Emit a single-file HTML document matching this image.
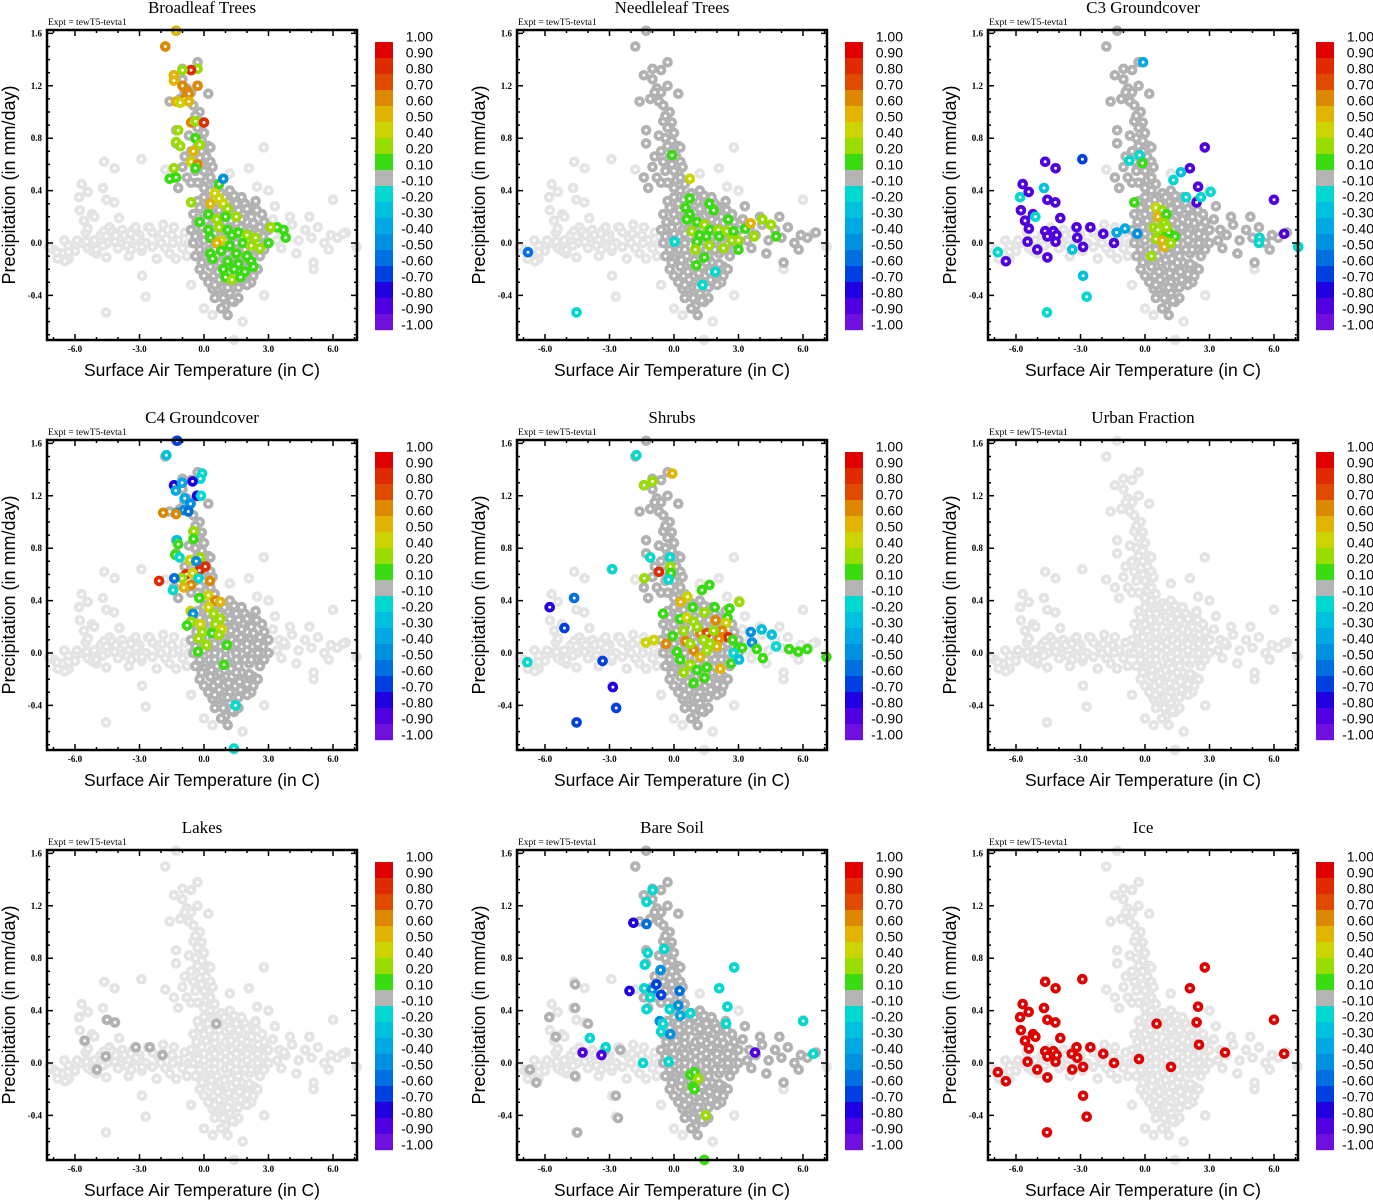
<!DOCTYPE html>
<html><head><meta charset="utf-8"><style>
html,body{margin:0;padding:0;background:#fff;}
svg{display:block;}
</style></head><body>
<svg id="chart" width="1373" height="1200" xmlns="http://www.w3.org/2000/svg"></svg>
<script>
// ---- shared base cloud (temperature C, precipitation mm/day) ----
const leftArm=[[-7.0,-0.05],[-6.6,-0.08],[-6.3,-0.02],[-6.0,-0.06],[-5.7,0.0],[-5.4,-0.04],[-5.1,0.02],[-4.8,0.06],[-4.5,0.0],[-4.2,0.08],[-3.9,0.04],[-3.6,-0.02],[-3.3,0.10],[-3.0,0.06],[-2.7,0.0],[-2.4,0.08],[-2.1,0.04],[-1.8,-0.04],[-1.5,0.06],[-1.2,0.02],[-0.9,0.08],[-6.8,-0.12],[-5.9,0.02],[-5.0,-0.08],[-4.4,0.12],[-3.5,-0.10],[-2.9,-0.06],[-2.2,-0.12],[-1.6,-0.08],[-1.0,-0.04],[-4.0,-0.04],[-3.2,0.02],[-2.6,0.12],[-1.9,0.14],[-5.5,0.08],[-6.3,-0.12],[-4.7,-0.02],[-3.8,0.1],[-2.4,-0.03],[-1.3,-0.12],[-7.2,-0.03],[-6.5,0.02],[-5.2,-0.06],[-3.7,0.06],[-2.0,0.0],[-1.4,0.12],[-0.7,0.0],[-0.8,-0.1]];
const plume=[[-1.3,1.62],[-1.8,1.5],[-0.3,1.38],[-0.6,1.32],[-1.0,1.33],[-1.4,1.28],[-1.0,1.25],[-0.3,1.20],[-0.8,1.18],[-0.6,1.15],[-1.1,1.10],[-1.6,1.08],[0.2,1.14],[-0.7,1.08],[-0.2,1.0],[-0.5,0.93],[-0.1,0.92],[-0.2,0.88],[-1.3,0.86],[-0.4,0.80],[-0.1,0.78],[-1.3,0.76],[-0.3,0.74],[0.2,0.74],[0.3,0.73],[-0.1,0.70],[-0.6,0.70],[0.1,0.66],[0.3,0.62],[-0.5,0.62],[-0.2,0.60],[0.4,0.58],[-1.0,0.58],[-0.4,0.55],[0.2,0.54],[-0.8,0.50],[0.1,0.48],[-1.4,0.50],[-0.3,0.46],[0.5,0.45],[-1.2,0.42],[0.0,0.42],[-0.4,0.97],[0.0,0.84],[-0.2,0.65],[0.0,0.55],[-0.9,1.15],[-0.5,1.05],[-0.3,0.88],[-0.7,0.82],[-0.9,0.66],[-0.1,0.6],[0.3,0.5],[-0.6,0.46]];
const blob=[[0.3,0.40],[0.8,0.38],[1.2,0.40],[0.6,0.35],[-0.3,0.32],[0.2,0.30],[0.7,0.30],[1.1,0.32],[1.5,0.30],[1.9,0.30],[2.4,0.32],[-0.5,0.22],[0.0,0.22],[0.5,0.20],[1.0,0.24],[1.4,0.20],[1.8,0.22],[2.2,0.20],[2.7,0.22],[-0.6,0.10],[-0.1,0.12],[0.4,0.10],[0.9,0.12],[1.3,0.10],[1.7,0.12],[2.1,0.10],[2.6,0.12],[3.0,0.10],[-0.5,0.0],[0.0,0.02],[0.5,0.0],[1.0,0.02],[1.5,0.0],[2.0,0.02],[2.5,0.0],[3.0,0.0],[-0.4,-0.10],[0.1,-0.08],[0.6,-0.10],[1.1,-0.08],[1.6,-0.10],[2.1,-0.08],[2.6,-0.10],[-0.2,-0.20],[0.3,-0.18],[0.8,-0.20],[1.3,-0.18],[1.8,-0.20],[2.3,-0.18],[0.2,-0.30],[0.7,-0.28],[1.2,-0.30],[1.7,-0.28],[2.2,-0.30],[0.7,-0.40],[1.2,-0.38],[1.6,-0.42],[1.0,-0.48],[0.25,0.05],[0.75,0.05],[1.25,0.05],[1.75,0.05],[0.25,-0.05],[0.75,-0.15],[1.25,-0.12],[1.75,-0.15],[0.5,0.15],[1.0,0.16],[1.5,0.15],[0.45,-0.25],[0.95,-0.25],[1.45,-0.25],[0.7,0.25],[1.2,0.26],[0.4,-0.35],[0.9,-0.34],[1.4,-0.34],[2.0,-0.24],[2.25,0.05],[2.75,0.05],[2.0,0.16],[2.4,-0.05],[1.9,-0.05],[0.5,-0.42],[1.4,-0.45],[2.1,0.27],[0.0,-0.12],[-0.2,0.07],[0.0,0.35],[0.45,0.33],[0.95,0.35],[1.4,0.36],[1.75,0.35],[-0.2,0.27],[0.25,0.25],[1.6,0.25],[2.0,0.26],[2.45,0.25],[-0.35,0.16],[0.1,0.17],[1.25,0.17],[1.75,0.18],[2.3,0.15],[2.8,0.16],[-0.4,0.05],[0.0,0.07],[0.5,0.07],[1.0,0.08],[1.5,0.07],[2.0,0.07],[2.5,0.07],[-0.2,-0.05],[0.5,-0.05],[1.0,-0.04],[1.5,-0.05],[2.2,-0.05],[2.8,-0.05],[-0.1,-0.15],[0.35,-0.13],[0.95,-0.13],[1.5,-0.15],[2.1,-0.16],[2.5,-0.2],[0.0,-0.25],[0.65,-0.22],[1.15,-0.23],[1.65,-0.22],[2.3,-0.25],[0.5,-0.32],[1.1,-0.34],[1.6,-0.34],[2.0,-0.32],[0.9,-0.42],[1.3,-0.44],[0.8,-0.5],[1.1,-0.55]];
const rightArm=[[3.2,0.18],[3.5,0.10],[3.8,0.06],[4.1,0.14],[4.4,0.02],[4.7,0.10],[5.0,0.04],[5.3,0.12],[5.6,0.0],[5.9,0.06],[6.2,0.04],[6.6,0.08],[3.6,-0.04],[4.3,-0.08],[5.1,-0.15],[4.9,0.20],[3.3,0.28],[5.8,-0.05],[4.0,0.2],[3.4,0.02]];
const outliers=[[-4.64,0.62],[-4.16,0.57],[-5.69,0.45],[-5.81,0.35],[-5.41,0.39],[-4.70,0.42],[-4.54,0.33],[-4.17,0.31],[-5.77,0.25],[-5.21,0.22],[-5.10,0.20],[-3.94,0.19],[-5.58,0.17],[-5.40,0.11],[-5.46,0.01],[-5.01,-0.05],[-6.84,-0.07],[-6.47,-0.14],[-4.64,0.09],[-4.54,0.05],[-4.26,0.09],[-4.11,0.06],[-4.16,0.01],[-4.54,-0.11],[-4.56,-0.53],[-2.91,0.64],[-3.18,0.12],[-3.41,0.07],[-3.15,0.04],[-3.38,-0.05],[-2.88,-0.03],[-2.54,0.12],[-1.94,0.07],[-1.44,0.0],[-2.88,-0.25],[-2.71,-0.41],[-0.28,0.03],[0.54,0.30],[1.21,-0.03],[2.09,0.57],[2.78,0.73],[2.47,0.43],[2.40,0.31],[2.51,0.14],[3.72,0.08],[6.0,0.33],[6.47,0.07],[-0.6,-0.32],[0.0,-0.5],[0.4,-0.55],[1.8,-0.60],[3.0,0.40],[1.2,0.53],[5.1,-0.2],[1.4,-0.74],[-1.8,0.56],[2.8,-0.4],[7.1,-0.03]];

// ---- per-panel data ----
const panelNames=["Broadleaf Trees","Needleleaf Trees","C3 Groundcover","C4 Groundcover","Shrubs","Urban Fraction","Lakes","Bare Soil","Ice"];
const darkGroups=[["plume","blob"],["plume","blob","rightArm"],["plume","blob","rightArm"],["plume","blob"],["plume","blob"],[],[],["plume","blob","rightArm"],[]];
const extraDark=[[],[],[],[],[],[],[[-4.51,0.33],[-4.14,0.31],[-5.55,0.17],[-3.17,0.12],[-2.52,0.12],[-4.57,0.05],[-1.93,0.06],[-4.98,-0.05],[0.57,0.30]],[[-5.8,0.35],[-4.6,0.42],[-5.5,0.2],[-4.6,0.6],[-4.0,0.3],[-3.2,0.1],[-2.5,0.1],[-6.7,-0.05],[-6.4,-0.15],[-4.6,-0.1],[-2.7,-0.25],[-2.6,-0.42],[-4.5,-0.53]],[]];
const broadleafVals=[[-1.3,1.62,0.5],[-1.8,1.5,0.6],[-0.3,1.33,0.3],[-0.6,1.32,0.8],[-1.0,1.32,0.3],[-1.4,1.28,0.5],[-1.4,1.24,0.5],[-1.0,1.2,0.6],[-0.8,1.16,0.6],[-0.7,1.14,0.6],[-0.3,1.2,0.6],[-0.9,1.10,0.6],[-1.3,1.08,0.5],[-1.1,1.07,0.4],[-0.7,1.08,0.5],[-0.6,0.92,0.6],[-0.4,0.93,0.2],[0.0,0.92,0.8],[-1.2,0.86,0.3],[-0.4,0.80,0.1],[-1.3,0.77,0.3],[-1.1,0.74,0.3],[-0.2,0.75,0.3],[-0.5,0.70,0.5],[-0.6,0.62,0.4],[-0.3,0.60,0.6],[-0.4,0.57,0.1],[-1.4,0.57,0.2],[-1.6,0.49,0.1],[-1.3,0.50,0.1],[0.7,0.45,0.1],[0.9,0.49,-0.5],[-0.6,0.31,0.3],[0.3,0.30,0.5],[0.5,0.38,0.4],[0.7,0.34,0.4],[0.9,0.30,0.4],[1.1,0.26,0.3],[0.2,0.22,0.1],[0.6,0.18,0.3],[1.0,0.20,0.1],[1.5,0.20,0.3],[-0.2,0.16,0.1],[0.2,0.10,0.1],[0.7,0.12,0.3],[1.1,0.10,0.1],[1.6,0.08,0.1],[2.0,0.06,0.3],[2.4,0.04,0.3],[0.3,0.04,0.1],[0.8,0.02,0.4],[1.3,0.06,0.1],[0.6,0.00,0.5],[1.2,-0.02,0.1],[1.8,0.00,0.1],[2.2,-0.02,0.3],[2.6,-0.04,0.3],[3.0,0.0,0.1],[3.4,0.12,0.1],[3.7,0.10,0.1],[3.8,0.04,0.1],[3.1,0.12,0.3],[0.3,-0.08,0.1],[0.8,-0.06,0.1],[1.5,-0.08,0.1],[2.0,-0.10,0.1],[0.4,-0.12,0.1],[1.1,-0.14,0.1],[1.6,-0.16,0.1],[2.2,-0.14,0.1],[0.9,-0.20,0.1],[1.4,-0.20,0.1],[1.9,-0.22,0.1],[2.3,-0.18,0.1],[1.0,-0.26,0.1],[1.3,-0.28,0.3],[1.7,-0.26,0.1]];
const needleleafVals=[[-0.09,0.67,0.1],[0.74,0.49,0.4],[0.73,0.34,0.1],[0.53,0.27,0.1],[1.65,0.30,0.1],[1.84,0.25,0.1],[2.52,0.18,0.1],[0.73,0.22,0.1],[0.6,0.18,0.1],[1.07,0.16,0.1],[1.42,0.14,0.3],[0.83,0.09,0.3],[1.19,0.06,0.1],[1.5,0.05,0.1],[1.68,0.10,0.1],[2.06,0.10,0.3],[2.1,0.05,0.1],[2.46,0.09,0.3],[2.77,0.09,0.1],[2.69,0.02,0.3],[3.0,0.02,0.3],[3.0,-0.05,0.1],[2.3,-0.04,0.3],[1.65,-0.02,0.3],[1.07,0.01,0.1],[0.99,-0.05,0.3],[1.41,-0.11,0.1],[1.04,-0.17,0.1],[3.31,0.11,0.1],[3.57,0.15,0.5],[3.73,0.05,0.3],[4.11,0.18,0.3],[4.51,0.14,0.3],[4.75,0.05,0.1],[-6.79,-0.07,-0.6],[-4.53,-0.53,-0.2],[0.03,0.01,-0.2],[1.92,-0.22,-0.2],[1.33,-0.32,-0.2]];
const c3Vals=[[-4.64,0.62,-0.9],[-4.16,0.57,-0.9],[-5.69,0.45,-0.9],[-5.81,0.35,-0.2],[-5.41,0.39,-0.9],[-4.70,0.42,-0.3],[-4.54,0.33,-0.9],[-4.17,0.31,-0.9],[-5.77,0.25,-0.9],[-5.21,0.22,-0.9],[-5.10,0.20,-0.2],[-3.94,0.19,-0.9],[-5.58,0.17,-0.9],[-5.40,0.11,-0.9],[-5.46,0.01,-0.9],[-5.01,-0.05,-0.9],[-6.84,-0.07,-0.2],[-6.47,-0.14,-0.9],[-4.64,0.09,-0.9],[-4.54,0.05,-0.9],[-4.26,0.09,-0.9],[-4.11,0.06,-0.9],[-4.16,0.01,-0.9],[-4.54,-0.11,-0.9],[-4.56,-0.53,-0.2],[-2.91,0.64,-0.7],[-3.18,0.12,-0.9],[-3.15,0.04,-0.9],[-3.38,-0.05,-0.3],[-2.88,-0.03,-0.9],[-2.54,0.12,-0.9],[-1.94,0.07,-0.9],[-1.44,0.0,-0.9],[-2.88,-0.25,-0.3],[-2.71,-0.41,-0.2],[2.09,0.57,-0.9],[2.78,0.73,-0.9],[2.47,0.43,-0.9],[2.40,0.31,-0.9],[6.0,0.33,-0.9],[6.47,0.07,-0.9],[-1.32,0.08,-0.4],[-0.93,0.11,-0.4],[-0.36,0.07,-0.5],[1.67,0.54,-0.3],[1.32,0.48,-0.2],[1.91,0.35,-0.2],[2.6,0.35,-0.2],[3.05,0.39,-0.2],[5.33,0.04,-0.2],[5.3,0.0,-0.2],[7.13,-0.03,-0.2],[-0.09,1.38,-0.4],[-0.73,0.63,-0.2],[-0.25,0.67,-0.2],[-0.11,0.61,0.1],[-0.5,0.31,0.1],[0.5,0.27,0.4],[0.8,0.25,0.3],[0.6,0.2,0.5],[1.0,0.22,0.1],[0.9,0.15,0.3],[0.4,0.12,0.3],[0.7,0.08,0.1],[1.1,0.08,0.1],[1.4,0.05,0.1],[0.5,0.03,0.3],[0.8,0.02,0.5],[0.9,-0.03,0.5],[1.2,0.0,0.3],[0.6,0.1,0.3],[0.3,-0.1,0.3],[1.0,0.12,0.3]];
const c4Vals=[[-1.24,1.62,-0.7],[-1.75,1.51,-0.3],[-0.09,1.37,-0.2],[-0.17,1.33,-0.2],[-0.53,1.31,-0.8],[-1.39,1.28,-0.8],[-1.02,1.30,-0.4],[-1.31,1.24,-0.4],[-0.32,1.20,-0.8],[-0.14,1.20,-0.2],[-0.90,1.18,-0.4],[-0.63,1.14,-0.5],[-0.94,1.09,-0.5],[-0.73,1.08,-0.6],[-1.27,1.07,-0.5],[-1.9,1.07,0.6],[-1.3,1.06,0.6],[-0.48,0.93,0.3],[-0.49,0.87,0.1],[-1.25,0.86,-0.3],[-1.2,0.83,0.1],[-1.34,0.75,0.1],[-1.14,0.73,-0.2],[-0.66,0.71,0.4],[-0.17,0.73,0.3],[-0.36,0.70,-0.5],[0.06,0.66,0.8],[-0.22,0.63,0.8],[-0.83,0.60,0.8],[-0.53,0.61,0.4],[-1.02,0.57,0.3],[-1.38,0.57,-0.6],[-0.25,0.57,-0.2],[0.28,0.55,0.6],[-2.09,0.55,0.8],[-0.6,0.52,0.6],[-0.94,0.50,0.5],[-1.44,0.48,-0.2],[0.2,0.44,0.4],[-0.22,0.42,0.1],[0.53,0.40,0.6],[0.76,0.39,0.5],[0.22,0.35,0.4],[-0.63,0.32,0.4],[-0.51,0.30,-0.5],[0.45,0.30,0.3],[0.76,0.26,0.3],[-0.6,0.24,0.3],[-0.79,0.21,0.1],[-0.17,0.22,0.4],[0.53,0.22,0.3],[0.83,0.18,0.4],[-0.08,0.16,0.3],[0.37,0.15,0.1],[0.7,0.14,0.3],[-0.25,0.11,0.3],[0.11,0.06,0.3],[1.07,0.06,0.1],[-0.28,0.01,0.1],[0.93,-0.09,0.1],[1.47,-0.40,-0.2],[1.39,-0.73,-0.2]];
const shrubVals=[[-1.75,1.51,-0.2],[-0.08,1.37,0.5],[-1.39,1.28,0.3],[-1.0,1.31,0.3],[-1.1,0.73,-0.2],[-0.19,0.73,-0.2],[-2.87,0.64,-0.2],[-0.7,0.62,0.8],[-0.17,0.66,0.3],[-0.14,0.61,0.1],[-0.25,0.56,-0.2],[-1.38,0.57,0.3],[1.65,0.52,0.1],[1.3,0.48,0.1],[0.63,0.43,0.4],[0.31,0.39,0.5],[3.04,0.39,0.2],[2.58,0.34,0.1],[1.9,0.35,0.1],[0.87,0.35,0.1],[-4.64,0.42,-0.6],[-5.78,0.35,-0.8],[-5.1,0.19,-0.7],[-0.51,0.30,0.1],[0.29,0.26,0.1],[0.6,0.27,0.4],[0.91,0.24,0.3],[1.42,0.31,0.2],[2.49,0.27,0.1],[1.93,0.25,0.6],[2.42,0.23,0.4],[1.22,0.15,0.6],[1.53,0.15,0.7],[2.24,0.17,0.6],[2.52,0.12,0.8],[2.09,0.11,0.6],[0.53,0.09,0.6],[-0.37,0.07,0.6],[-0.06,0.13,0.1],[-0.94,0.10,0.4],[-1.31,0.08,0.4],[0.91,0.02,0.6],[1.22,-0.03,0.5],[1.99,0.05,0.5],[0.14,0.01,0.1],[0.29,-0.05,0.1],[0.76,-0.09,0.3],[1.07,-0.13,0.1],[1.53,-0.11,0.1],[2.15,-0.12,0.5],[0.45,-0.15,0.3],[0.91,-0.23,0.1],[1.42,-0.19,0.1],[2.66,-0.08,0.1],[2.72,0.10,0.1],[2.98,0.04,0.1],[3.17,0.04,0.1],[2.77,0.0,-0.2],[3.03,-0.05,-0.3],[3.57,0.16,-0.5],[3.63,0.08,-0.5],[4.08,0.18,-0.3],[4.55,0.14,-0.3],[4.75,0.05,-0.2],[3.85,0.03,0.1],[4.13,-0.04,0.1],[5.36,0.03,0.1],[5.78,0.01,0.1],[6.2,0.03,0.1],[7.09,-0.03,0.1],[-6.82,-0.07,-0.2],[-3.32,-0.06,-0.7],[-2.84,-0.26,-0.8],[-2.69,-0.42,-0.7],[-4.53,-0.53,-0.7],[1.38,0.10,0.3],[1.68,0.07,0.2],[1.84,0.17,0.2],[0.76,0.07,0.2],[0.45,0.17,0.2],[1.07,0.20,0.3],[1.53,0.02,0.2]];
const bareSoilVals=[[-0.99,1.32,-0.2],[-1.28,1.23,-0.2],[-1.89,1.07,-0.8],[-1.28,1.06,-0.6],[-1.22,0.84,-0.2],[-0.46,0.87,-0.2],[-1.36,0.75,-0.2],[-0.63,0.71,-0.5],[2.8,0.73,-0.2],[-2.07,0.55,-0.8],[-1.38,0.57,-0.2],[-1.02,0.56,-0.5],[-0.82,0.60,-0.7],[-0.6,0.52,-0.7],[-1.1,0.50,-0.2],[-1.28,0.41,-0.2],[-0.2,0.41,-0.2],[0.26,0.55,-0.6],[0.2,0.44,-0.5],[2.1,0.57,-0.2],[2.49,0.43,-0.2],[2.43,0.30,-0.2],[6.01,0.32,-0.2],[6.48,0.07,-0.2],[-0.66,0.32,-0.5],[-0.51,0.30,-0.2],[-0.6,0.24,-0.2],[-0.17,0.22,-0.5],[-3.91,0.19,-0.2],[-3.17,0.12,-0.2],[-4.25,0.08,-0.9],[-3.37,0.06,-0.9],[-1.44,0.0,-0.2],[-0.25,0.01,-0.2],[3.77,0.08,-0.9],[0.76,-0.09,0.1],[0.96,-0.07,0.1],[1.13,-0.12,0.3],[0.87,-0.18,0.1],[0.96,-0.20,0.1],[1.48,-0.40,0.3],[1.41,-0.74,0.1],[0.76,0.38,-0.2],[0.29,0.36,-0.4]];
const iceVals=outliers.slice(0,47).map(d=>[d[0],d[1],0.9]);
const panelVals=[broadleafVals,needleleafVals,c3Vals,c4Vals,shrubVals,[],[],bareSoilVals,iceVals];

// ---- axis/colorbar labels ----
const xTicks=[-6,-3,0,3,6];
const xTickLabels=["-6.0","-3.0","0.0","3.0","6.0"];
const yTicks=[1.6,1.2,0.8,0.4,0.0,-0.4];
const yTickLabels=["1.6","1.2","0.8","0.4","0.0","-0.4"];
const cbBounds=[1.0,0.9,0.8,0.7,0.6,0.5,0.4,0.2,0.1,-0.1,-0.2,-0.3,-0.4,-0.5,-0.6,-0.7,-0.8,-0.9,-1.0];
const cbLabels=["1.00","0.90","0.80","0.70","0.60","0.50","0.40","0.20","0.10","-0.10","-0.20","-0.30","-0.40","-0.50","-0.60","-0.70","-0.80","-0.90","-1.00"];
const cbColors=["#e00000","#e02a00","#e04a00","#dc8800","#e0b400","#ccd400","#98dc00","#38dc10","#b4b4b4","#00d8d0","#00c0e0","#00a8e4","#0090e0","#0070e0","#0040e0","#2000e0","#5000e0","#7010e0"];

const NS="http://www.w3.org/2000/svg";
const svg=document.getElementById('chart');
const groups={leftArm,plume,blob,rightArm,outliers};
function mk(tag,attrs,parent){const e=document.createElementNS(NS,tag);for(const k in attrs)e.setAttribute(k,attrs[k]);parent.appendChild(e);return e;}
function colorFor(v){for(let i=0;i<18;i++){if(v>=cbBounds[i+1]-1e-9)return cbColors[i];}return cbColors[17];}
const BL=47,BR=357,BT=30,BB=340;
function sx(t){return 204+21.5*t;}
function sy(p){return 243-131*p;}

panelNames.forEach((name,idx)=>{
  const ox=[0,470,941][idx%3], oy=Math.floor(idx/3)*410;
  const g=mk('g',{transform:`translate(${ox},${oy})`},svg);
  
  
  const title=mk('text',{x:202,y:13,'text-anchor':'middle','font-family':'Liberation Serif, serif','font-size':17},g);
  title.textContent=name;
  
  
  const ex=mk('text',{x:48,y:25,'font-family':'Liberation Serif, serif','font-size':9.5},g);
  ex.textContent="Expt = tewT5-tevta1";
  
  
  const clip=mk('clipPath',{id:'clip'+idx},g);
  mk('rect',{x:BL-8,y:BT-8,width:BR-BL+16,height:BB-BT+16},clip);
  const pts=mk('g',{'clip-path':`url(#clip${idx})`},g);
  
  
  function dot(t,p,col,nm){
    const c=mk('circle',{cx:sx(t).toFixed(1),cy:sy(p).toFixed(1),r:3.4,fill:'#fff',stroke:col,'stroke-width':3.8},pts);
    
    
  }
  const dg=darkGroups[idx];
  Object.keys(groups).forEach(k=>{ if(dg.indexOf(k)<0) groups[k].forEach(d=>dot(d[0],d[1],'#e4e4e4','point-missing')); });
  Object.keys(groups).forEach(k=>{ if(dg.indexOf(k)>=0) groups[k].forEach(d=>dot(d[0],d[1],'#b2b2b2','point-neutral')); });
  extraDark[idx].forEach(d=>dot(d[0],d[1],'#b2b2b2','point-neutral'));
  panelVals[idx].forEach(d=>dot(d[0],d[1],colorFor(d[2]),'point-correlation'));
  const fr=mk('rect',{x:BL,y:BT,width:BR-BL,height:BB-BT,fill:'none',stroke:'#000','stroke-width':2.5},g);
  
  
  let tk='';
  for(let t=-7;t<=7;t++){const x=sx(t);const L=(t%3===0)?6:3;tk+=`M${x},${BB}v${-L}M${x},${BT}v${L}`;}
  for(let k=-7;k<=16;k++){const p=k/10;const y=sy(p);if(y<BT||y>BB)continue;const L=(k%4===0)?6:3;tk+=`M${BL},${y}h${L}M${BR},${y}h${-L}`;}
  const tp=mk('path',{d:tk,stroke:'#000','stroke-width':1.5,fill:'none'},g);
  
  
  xTicks.forEach((t,i)=>{const tx=mk('text',{x:sx(t),y:352,'text-anchor':'middle','font-family':'Liberation Serif, serif','font-size':9,'font-weight':'bold'},g);tx.textContent=xTickLabels[i];
    
    });
  yTicks.forEach((p,i)=>{const ty=mk('text',{x:42,y:sy(p)+3,'text-anchor':'end','font-family':'Liberation Serif, serif','font-size':9,'font-weight':'bold'},g);ty.textContent=yTickLabels[i];
    
    });
  const xt=mk('text',{x:202,y:376,'text-anchor':'middle','font-family':'Liberation Sans, sans-serif','font-size':17.5},g);
  xt.textContent="Surface Air Temperature (in C)";
  
  
  const yt=mk('text',{x:0,y:0,transform:'translate(15,185) rotate(-90)','text-anchor':'middle','font-family':'Liberation Sans, sans-serif','font-size':18},g);
  yt.textContent="Precipitation (in mm/day)";
  
  
  const cb=mk('g',{},g);
  
  
  cbColors.forEach((c,i)=>{const r=mk('rect',{x:375,y:42+16*i,width:18,height:16.2,fill:c},cb);
    
    });
  cbLabels.forEach((l,i)=>{const t=mk('text',{x:433,y:42+16*i-0.5,'text-anchor':'end','font-family':'Liberation Sans, sans-serif','font-size':14},cb);t.textContent=l;
    
    });
});
</script>
</body></html>
